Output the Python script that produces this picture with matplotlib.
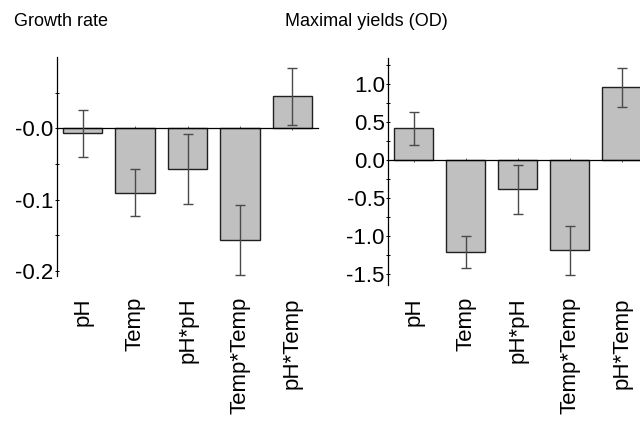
import matplotlib
matplotlib.use("Agg")
import matplotlib.pyplot as plt
import matplotlib.transforms as mtransforms
from matplotlib.ticker import FixedLocator, FixedFormatter

plt.rcParams['font.family'] = ['Liberation Sans', 'DejaVu Sans']

# effect estimates with standard errors
terms = ["pH", "Temp", "pH*pH", "Temp*Temp", "pH*Temp"]
growth = [-0.007, -0.090, -0.057, -0.157, 0.045]
growth_err = [0.033, 0.033, 0.049, 0.049, 0.040]
yields = [0.41, -1.215, -0.39, -1.19, 0.95]
yields_err = [0.22, 0.21, 0.32, 0.32, 0.26]

growth_ticks = [0.0, -0.1, -0.2]
growth_ticklabels = ["-0.0", "-0.1", "-0.2"]
growth_minor = [0.05, -0.05, -0.15]
yields_ticks = [1.0, 0.5, 0.0, -0.5, -1.0, -1.5]
yields_ticklabels = ["1.0", "0.5", "0.0", "-0.5", "-1.0", "-1.5"]
yields_minor = [1.25, 0.75, 0.25, -0.25, -0.75, -1.25]

fig = plt.figure(figsize=(6.4, 4.23), dpi=100)
ax1 = fig.add_axes([0.0891, 0.3475, 0.408, 0.5177])
ax2 = fig.add_axes([0.6067, 0.3262, 0.4047, 0.536])


def panel(ax, vals, errs, ylim, ticks, ticklabels, minor, title, title_x):
    x = list(range(len(vals)))
    ax.bar(x, vals, width=0.75, color="#c0c0c0", edgecolor="#202020",
           linewidth=1.0, zorder=2)
    ax.errorbar(x, vals, yerr=errs, fmt="none", ecolor="#4a4a4a",
                elinewidth=1.0, capsize=3.5, capthick=1.0, zorder=3)
    ax.set_xlim(-0.49, len(vals) - 0.51)
    ax.set_ylim(*ylim)
    for s in ("top", "right"):
        ax.spines[s].set_visible(False)
    ax.spines["bottom"].set_position(("data", 0))
    ax.spines["bottom"].set_linewidth(0.9)
    ax.spines["left"].set_linewidth(0.9)
    ax.yaxis.set_major_locator(FixedLocator(ticks))
    ax.yaxis.set_major_formatter(FixedFormatter(ticklabels))
    ax.yaxis.set_minor_locator(FixedLocator(minor))
    ax.tick_params(axis="y", which="both", direction="inout", length=3,
                   width=0.7, labelsize=16, pad=1)
    ax.set_xticks(x)
    ax.tick_params(axis="x", direction="inout", length=3, width=0.7,
                   color="#606060", labelbottom=False)
    trans = mtransforms.blended_transform_factory(ax.transData, fig.transFigure)
    for xi, t in zip(x, terms):
        ax.text(xi, 1 - 297 / 423, t, rotation=90, ha="center", va="top",
                fontsize=16, transform=trans)
    fig.text(title_x, 1 - 21 / 423, title, fontsize=13, va="center", ha="left")


panel(ax1, growth, growth_err, (-0.2071, 0.1), growth_ticks,
      growth_ticklabels, growth_minor, "Growth rate", 14 / 640)
panel(ax2, yields, yields_err, (-1.646, 1.332), yields_ticks,
      yields_ticklabels, yields_minor, "Maximal yields (OD)", 285 / 640)

fig.savefig("out.png", dpi=100)
